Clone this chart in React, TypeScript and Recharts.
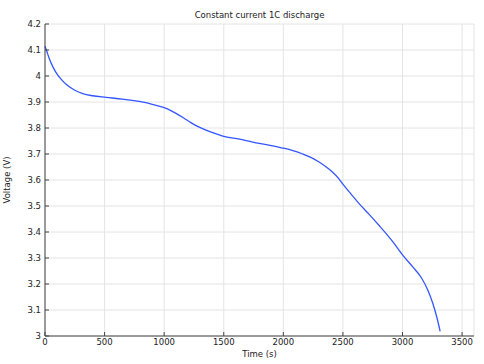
import { LineChart, Line, XAxis, YAxis, CartesianGrid, Label } from "recharts";

const timeS = [
  0, 15, 35, 65, 100, 140, 190, 250, 317, 400, 513, 650, 793, 933, 988, 1072, 1140, 1212,
  1280, 1352, 1420, 1492, 1632, 1743, 1870, 1995, 2080, 2163, 2235, 2303, 2360, 2414, 2460,
  2498, 2570, 2638, 2720, 2806, 2918, 3002, 3086, 3156, 3212, 3254, 3287, 3316,
];
const voltageV = [
  4.115, 4.095, 4.068, 4.036, 4.008, 3.985, 3.963, 3.945, 3.932, 3.924, 3.918, 3.911, 3.902,
  3.887, 3.88, 3.863, 3.845, 3.824, 3.806, 3.792, 3.78, 3.769, 3.757, 3.746, 3.735, 3.723,
  3.713, 3.7, 3.686, 3.668, 3.65, 3.63, 3.608, 3.585, 3.545, 3.508, 3.468, 3.424, 3.363,
  3.311, 3.266, 3.226, 3.177, 3.126, 3.074, 3.018,
];
const xTicks = [0, 500, 1000, 1500, 2000, 2500, 3000, 3500];
const yTicks = [3, 3.1, 3.2, 3.3, 3.4, 3.5, 3.6, 3.7, 3.8, 3.9, 4, 4.1, 4.2];

const data = timeS.map((t, i) => ({ t, v: voltageV[i] }));

const FONT = "'DejaVu Sans', sans-serif";
const TEXT = "#222";
const AXIS = "#444";
const TICK_LEN = 4;

function BottomTick(props: any) {
  const { x, y, payload } = props;
  const axisY = y - 3;
  return (
    <g>
      <line x1={x} y1={axisY} x2={x} y2={axisY - TICK_LEN} stroke={AXIS} />
      <text x={x} y={y} dy="0.75em" textAnchor="middle" fontSize={8.5} fontFamily={FONT} fill={TEXT}>
        {payload.value}
      </text>
    </g>
  );
}

function LeftTick(props: any) {
  const { x, y, payload } = props;
  const axisX = x + 4;
  return (
    <g>
      <line x1={axisX} y1={y} x2={axisX + TICK_LEN} y2={y} stroke={AXIS} />
      <text x={x} y={y} dy="0.36em" textAnchor="end" fontSize={8.5} fontFamily={FONT} fill={TEXT}>
        {Number(payload.value.toFixed(1)).toString()}
      </text>
    </g>
  );
}

function TopTick(props: any) {
  const { x, y } = props;
  return <line x1={x} y1={y} x2={x} y2={y + TICK_LEN} stroke={AXIS} />;
}

function RightTick(props: any) {
  const { x, y } = props;
  return <line x1={x} y1={y} x2={x - TICK_LEN} y2={y} stroke={AXIS} />;
}

export default function App() {
  return (
    <div style={{ position: "absolute", left: 0, top: 0, width: 484, height: 364, background: "#fff" }}>
      <div
        style={{
          position: "absolute",
          left: 45,
          width: 429,
          top: 9,
          textAlign: "center",
          fontFamily: FONT,
          fontSize: 8.5,
          color: TEXT,
          lineHeight: "12px",
        }}
      >
        Constant current 1C discharge
      </div>
      <LineChart width={484} height={364} data={data} margin={{ top: 24, right: 10, bottom: 0, left: 0 }}>
        <CartesianGrid stroke="#e4e4e4" />
        <XAxis
          dataKey="t"
          type="number"
          domain={[0, 3600]}
          ticks={xTicks}
          height={28}
          tickSize={0}
          tickMargin={3}
          tickLine={false}
          axisLine={{ stroke: AXIS }}
          tick={<BottomTick />}
          interval={0}
        >
          <Label value="Time (s)" position="insideBottom" offset={7} fontSize={8.5} fontFamily={FONT} fill={TEXT} />
        </XAxis>
        <XAxis
          xAxisId="top"
          orientation="top"
          dataKey="t"
          type="number"
          domain={[0, 3600]}
          ticks={xTicks}
          height={0}
          tickSize={0}
          tickMargin={0}
          tickLine={false}
          axisLine={{ stroke: AXIS }}
          tick={<TopTick />}
          interval={0}
        />
        <YAxis
          type="number"
          domain={[3, 4.2]}
          ticks={yTicks}
          width={45}
          tickSize={0}
          tickMargin={4}
          tickLine={false}
          axisLine={{ stroke: AXIS }}
          tick={<LeftTick />}
          interval={0}
        >
          <Label
            value="Voltage (V)"
            angle={-90}
            position="insideLeft"
            offset={7}
            style={{ textAnchor: "middle" }}
            fontSize={8.5}
            fontFamily={FONT}
            fill={TEXT}
          />
        </YAxis>
        <YAxis
          yAxisId="right"
          orientation="right"
          type="number"
          domain={[3, 4.2]}
          ticks={yTicks}
          width={0}
          tickSize={0}
          tickMargin={0}
          tickLine={false}
          axisLine={{ stroke: AXIS }}
          tick={<RightTick />}
          interval={0}
        />
        <Line
          type="monotone"
          dataKey="v"
          stroke="#3355ff"
          strokeWidth={1.3}
          dot={false}
          isAnimationActive={false}
        />
      </LineChart>
    </div>
  );
}
